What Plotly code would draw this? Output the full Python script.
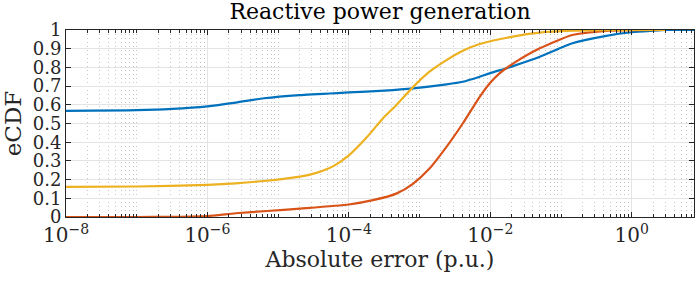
import plotly.graph_objects as go

# log10 of absolute error (p.u.) and eCDF values
blue_log10 = [-8, -7, -6.5, -6, -5.6, -5.2, -4.7, -4.0, -3.5, -3.09, -2.62, -2.39, -2.15, -2.01, -1.68, -1.3, -0.84, -0.36, 0, 0.3, 0.48, 0.88]
blue_cdf = [0.568, 0.571, 0.578, 0.592, 0.612, 0.635, 0.652, 0.666, 0.676, 0.688, 0.709, 0.723, 0.75, 0.768, 0.807, 0.857, 0.929, 0.969, 0.988, 0.996, 1.0, 1.0]

red_log10 = [-8, -7, -6.5, -6, -5.6, -5.16, -4.69, -4.0, -3.66, -3.33, -3.09, -2.86, -2.62, -2.39, -2.15, -2.01, -1.87, -1.68, -1.3, -0.84, -0.36, 0, 0.47]
red_cdf = [0.0, 0.0, 0.001, 0.005, 0.02, 0.032, 0.045, 0.067, 0.09, 0.125, 0.179, 0.259, 0.375, 0.5, 0.643, 0.714, 0.768, 0.82, 0.902, 0.973, 0.995, 0.999, 1.0]

yellow_log10 = [-8, -7, -6, -5.6, -5.16, -4.69, -4.46, -4.22, -4.0, -3.75, -3.52, -3.33, -3.09, -2.86, -2.62, -2.39, -2.15, -1.68, -1.3, -0.84, -0.4, 0, 0.47]
yellow_cdf = [0.161, 0.163, 0.172, 0.18, 0.194, 0.216, 0.236, 0.272, 0.33, 0.425, 0.527, 0.598, 0.696, 0.777, 0.839, 0.889, 0.925, 0.965, 0.986, 0.996, 0.999, 1.0, 1.0]

x_tick_exps = [-8, -6, -4, -2, 0]
y_ticks = [0, 0.1, 0.2, 0.3, 0.4, 0.5, 0.6, 0.7, 0.8, 0.9, 1]
y_tick_labels = ["0", "0.1", "0.2", "0.3", "0.4", "0.5", "0.6", "0.7", "0.8", "0.9", "1"]

FONT = "DejaVu Serif"
AXC = "#262626"

fig = go.Figure()
for lx, cy, col in [(blue_log10, blue_cdf, "#0072BD"),
                    (red_log10, red_cdf, "#D95319"),
                    (yellow_log10, yellow_cdf, "#EDB120")]:
    fig.add_trace(go.Scatter(x=[10 ** v for v in lx], y=cy, mode="lines",
                             line=dict(color=col, width=2.2, shape="spline", smoothing=0.6),
                             showlegend=False, hoverinfo="skip"))

minor_vals = []
for d in range(-8, 1):
    for m in range(1, 10):
        if m == 1 and d in x_tick_exps:
            continue
        minor_vals.append(m * 10 ** d)

fig.update_layout(
    width=698, height=282,
    margin=dict(l=66, r=4, t=30, b=65),
    paper_bgcolor="white", plot_bgcolor="white",
    font=dict(family=FONT, size=18, color=AXC),
    title=dict(text="Reactive power generation", x=(66 + 694) / 2 / 698, xanchor="center",
               y=0.96, yanchor="middle", font=dict(family=FONT, size=22, color="#000000")),
    xaxis=dict(
        type="log", range=[-8, 0.88], automargin=False,
        tickvals=[10 ** e for e in x_tick_exps],
        ticktext=["10<sup>\u2212%d</sup>" % -e if e < 0 else "10<sup>%d</sup>" % e for e in x_tick_exps],
        ticks="inside", ticklen=5, tickcolor=AXC,
        showline=True, linecolor=AXC, linewidth=1, mirror="allticks",
        showgrid=True, gridcolor="#e4e4e4", gridwidth=1,
        minor=dict(tickvals=minor_vals, ticks="inside", ticklen=3, tickcolor=AXC,
                   showgrid=True, gridcolor="#c4c4c4", griddash="1px,3px", gridwidth=1),
        tickfont=dict(size=20),
        title=dict(text="Absolute error (p.u.)", font=dict(size=22), standoff=4),
        zeroline=False,
    ),
    yaxis=dict(
        range=[0, 1], automargin=False,
        tickvals=y_ticks, ticktext=y_tick_labels,
        ticks="inside", ticklen=5, tickcolor=AXC,
        showline=True, linecolor=AXC, linewidth=1, mirror="allticks",
        showgrid=True, gridcolor="#e4e4e4", gridwidth=1,
        tickfont=dict(size=18),
        title=dict(text="eCDF", font=dict(size=23), standoff=6),
        zeroline=False,
    ),
)

fig.write_html("out.html", config={"displayModeBar": False},
               post_script="document.body.style.margin='0';document.body.style.overflow='hidden';")
